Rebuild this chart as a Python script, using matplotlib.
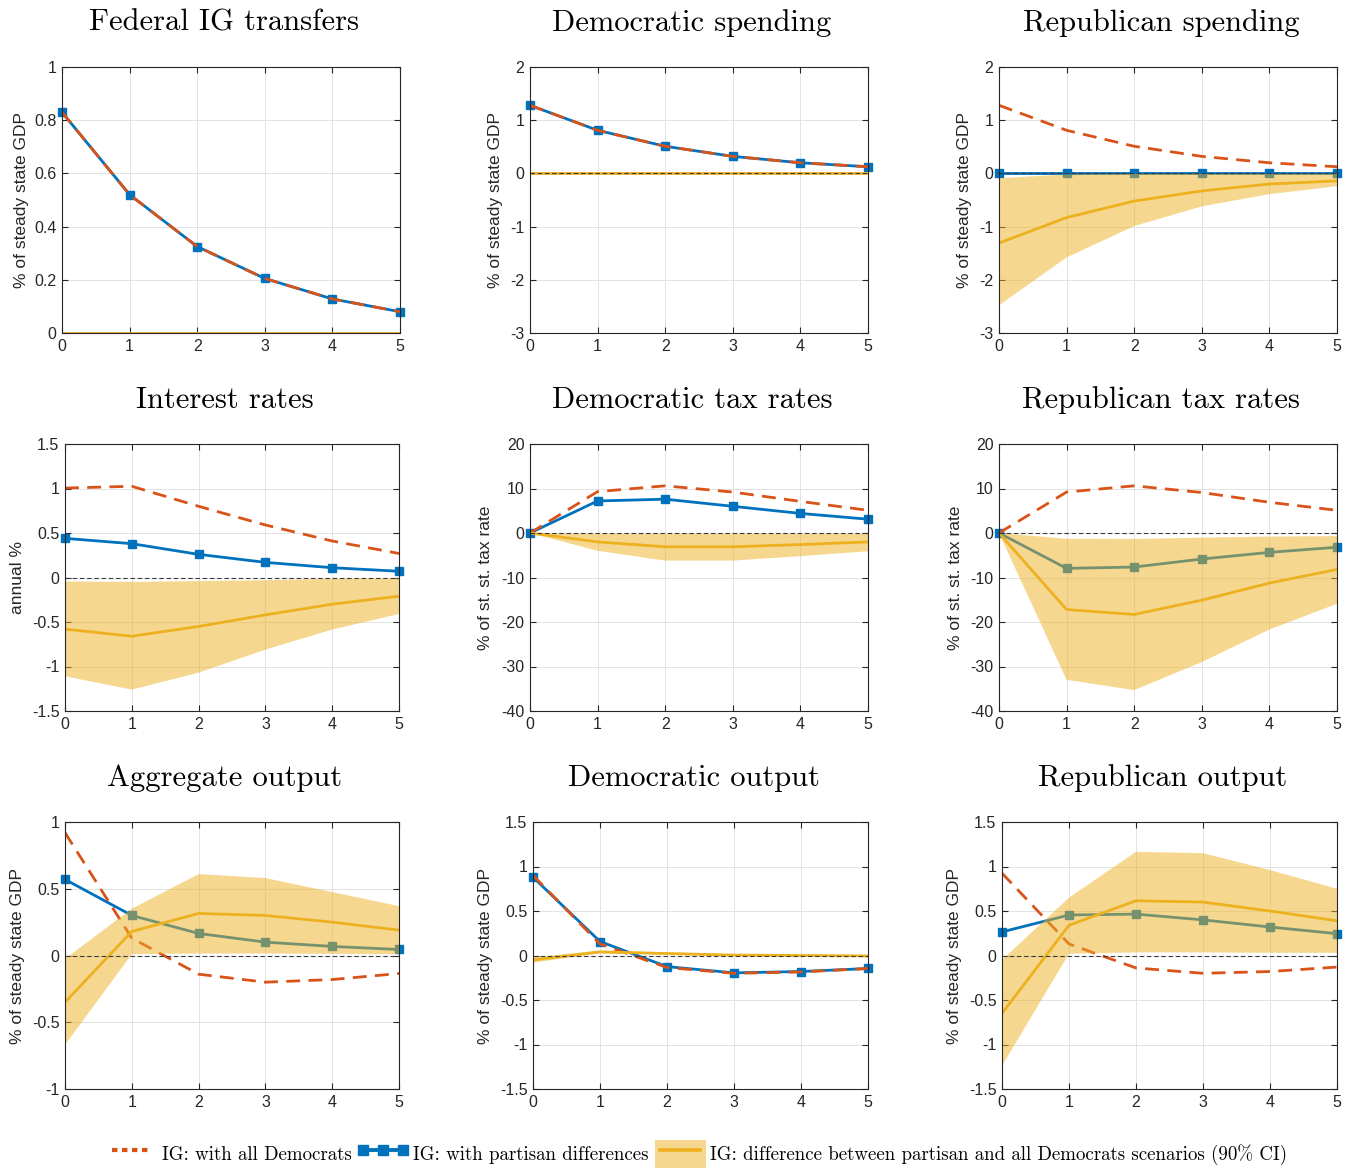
import matplotlib
matplotlib.use("Agg")
import matplotlib.pyplot as plt
from matplotlib.lines import Line2D
from matplotlib.patches import Patch
from matplotlib.ticker import FuncFormatter
import numpy as np

plt.rcParams["axes.unicode_minus"] = False

horizon = [0, 1, 2, 3, 4, 5]

titles = ["Federal IG transfers", "Democratic spending", "Republican spending",
          "Interest rates", "Democratic tax rates", "Republican tax rates",
          "Aggregate output", "Democratic output", "Republican output"]

ylabels = ["% of steady state GDP", "% of steady state GDP", "% of steady state GDP",
           "annual %", "% of st. st. tax rate", "% of st. st. tax rate",
           "% of steady state GDP", "% of steady state GDP", "% of steady state GDP"]

# IG with all Democrats
all_dem = [
    [0.83, 0.52, 0.325, 0.205, 0.128, 0.08],
    [1.28, 0.81, 0.51, 0.32, 0.20, 0.125],
    [1.28, 0.81, 0.51, 0.32, 0.20, 0.125],
    [1.005, 1.025, 0.80, 0.59, 0.41, 0.27],
    [0.0, 9.3, 10.6, 9.2, 7.1, 5.1],
    [0.0, 9.2, 10.6, 9.1, 6.9, 5.1],
    [0.92, 0.13, -0.14, -0.20, -0.18, -0.135],
    [0.90, 0.13, -0.135, -0.20, -0.185, -0.146],
    [0.925, 0.13, -0.14, -0.20, -0.18, -0.13],
]

# IG with partisan differences
partisan = [
    [0.83, 0.52, 0.325, 0.205, 0.128, 0.08],
    [1.28, 0.81, 0.51, 0.32, 0.20, 0.125],
    [0.0, 0.0, 0.0, 0.0, 0.0, 0.0],
    [0.44, 0.38, 0.26, 0.17, 0.11, 0.07],
    [0.0, 7.2, 7.6, 6.0, 4.4, 3.1],
    [0.0, -7.95, -7.65, -5.85, -4.35, -3.2],
    [0.57, 0.30, 0.165, 0.10, 0.068, 0.045],
    [0.88, 0.157, -0.125, -0.195, -0.18, -0.146],
    [0.265, 0.455, 0.465, 0.40, 0.32, 0.245],
]

# Difference between partisan and all-Democrats scenarios
difference = [
    [0.0, 0.0, 0.0, 0.0, 0.0, 0.0],
    [0.0, 0.0, 0.0, 0.0, 0.0, 0.0],
    [-1.31, -0.83, -0.52, -0.33, -0.20, -0.14],
    [-0.58, -0.66, -0.55, -0.42, -0.30, -0.21],
    [0.0, -2.0, -3.1, -3.1, -2.6, -2.0],
    [0.0, -17.2, -18.3, -15.1, -11.25, -8.2],
    [-0.35, 0.18, 0.315, 0.30, 0.25, 0.19],
    [-0.05, 0.04, 0.022, 0.005, 0.0, -0.005],
    [-0.65, 0.34, 0.615, 0.60, 0.50, 0.39],
]

# 90% confidence band of the difference
band_low = [
    [0.0, 0.0, 0.0, 0.0, 0.0, 0.0],
    [-0.01, -0.01, -0.01, -0.01, -0.01, -0.01],
    [-2.48, -1.58, -0.99, -0.62, -0.39, -0.24],
    [-1.11, -1.26, -1.07, -0.81, -0.585, -0.41],
    [0.0, -4.0, -6.2, -6.2, -5.2, -4.1],
    [0.0, -33.0, -35.3, -29.0, -21.7, -15.9],
    [-0.67, 0.01, 0.015, 0.015, 0.012, 0.01],
    [-0.08, 0.025, 0.01, -0.005, -0.01, -0.015],
    [-1.24, 0.02, 0.035, 0.035, 0.03, 0.03],
]
band_high = [
    [0.0, 0.0, 0.0, 0.0, 0.0, 0.0],
    [0.01, 0.01, 0.01, 0.01, 0.01, 0.01],
    [-0.09, -0.02, -0.01, -0.01, -0.01, -0.01],
    [-0.045, -0.05, -0.04, -0.03, -0.015, -0.01],
    [0.0, -0.2, -0.2, -0.2, -0.2, -0.2],
    [0.0, -1.3, -1.35, -1.05, -0.8, -0.7],
    [-0.025, 0.35, 0.61, 0.58, 0.475, 0.37],
    [-0.02, 0.055, 0.035, 0.015, 0.01, 0.005],
    [-0.05, 0.65, 1.165, 1.15, 0.96, 0.75],
]

ylims = [(0, 1), (-3, 2), (-3, 2), (-1.5, 1.5), (-40, 20), (-40, 20),
         (-1, 1), (-1.5, 1.5), (-1.5, 1.5)]
yticks = [
    [0, 0.2, 0.4, 0.6, 0.8, 1],
    [-3, -2, -1, 0, 1, 2],
    [-3, -2, -1, 0, 1, 2],
    [-1.5, -1, -0.5, 0, 0.5, 1, 1.5],
    [-40, -30, -20, -10, 0, 10, 20],
    [-40, -30, -20, -10, 0, 10, 20],
    [-1, -0.5, 0, 0.5, 1],
    [-1.5, -1, -0.5, 0, 0.5, 1, 1.5],
    [-1.5, -1, -0.5, 0, 0.5, 1, 1.5],
]

legend_labels = ["IG: with all Democrats",
                 "IG: with partisan differences",
                 "IG: difference between partisan and all Democrats scenarios (90% CI)"]

RED = "#D95319"
BLUE = "#0072BD"
YELLOW = "#EDB120"
AXC = "#262626"

W, H = 1355, 1170
fig = plt.figure(figsize=(W / 100, H / 100), dpi=100)

# axes boxes in pixels: left, top, right, bottom
boxes = [
    (62, 67, 400, 333), (530, 67, 868, 333), (999, 67, 1337, 333),
    (65, 444, 399, 711), (530, 444, 868, 711), (999, 444, 1337, 711),
    (65, 822, 399, 1089), (533, 822, 868, 1089), (1002, 822, 1337, 1089),
]
# right edge of each y-label, in pixels
label_right = [29, 503, 972, 25, 493, 963, 25, 493, 962]

tick_family = ["Liberation Sans", "DejaVu Sans"]
title_font = ["cmr10", "DejaVu Serif"]

fmt = FuncFormatter(lambda v, p: ("%g" % v))

for i in range(9):
    l, t, r, b = boxes[i]
    ax = fig.add_axes([l / W, 1 - b / H, (r - l) / W, (b - t) / H])
    x = np.array(horizon)

    ax.plot(x, partisan[i], color=BLUE, lw=2.0, marker="s", ms=6,
            mfc=BLUE, mec=BLUE, clip_on=False, zorder=1.5)
    ax.plot(x, all_dem[i], color=RED, lw=2.0, dashes=(5, 3), zorder=1.6)
    ax.fill_between(x, band_low[i], band_high[i], facecolor=YELLOW, alpha=0.5,
                    lw=0, zorder=2.2)
    ax.plot(x, difference[i], color=YELLOW, lw=2.0, zorder=2.3)
    ax.plot([x[0], x[-1]], [0, 0], color="#3a3a3a", lw=0.8, dashes=(4, 2.5),
            zorder=2.4)

    ax.set_xlim(0, 5)
    ax.set_ylim(*ylims[i])
    ax.set_xticks(horizon)
    ax.set_yticks(yticks[i])
    ax.yaxis.set_major_formatter(fmt)
    ax.grid(True, color="#e3e3e3", lw=0.7)
    ax.set_axisbelow(True)
    for s in ax.spines.values():
        s.set_color(AXC)
        s.set_linewidth(0.8)
        s.set_zorder(2.5)
    ax.tick_params(direction="in", top=True, right=True, length=4, width=0.8,
                   color=AXC, labelcolor=AXC, pad=4)
    for lab in ax.get_xticklabels() + ax.get_yticklabels():
        lab.set_fontfamily(tick_family)
        lab.set_fontsize(11.5)

    ax.set_title(titles[i], fontfamily=title_font, fontsize=22, pad=26,
                 color="black", x=0.5 - 7 / (r - l))
    ax.set_ylabel(ylabels[i], fontfamily=tick_family, fontsize=12.5, color=AXC)
    ax.yaxis.set_label_coords((label_right[i] - l) / (r - l), 0.5)

h_red = Line2D([], [], color=RED, lw=3.0, dashes=(1.3, 1.1))
h_blue = Line2D([], [], color=BLUE, lw=2.8, marker="s", ms=7)
h_band = (Patch(facecolor=YELLOW, alpha=0.5, lw=0),
          Line2D([], [], color=YELLOW, lw=2.6))
fig.legend([h_red, h_blue, h_band], legend_labels,
           loc="center", bbox_to_anchor=(697 / W, 1 - 1154 / H),
           ncol=3, frameon=False, numpoints=3,
           prop={"family": title_font, "size": 13.6},
           handlelength=2.7, handleheight=1.9, handletextpad=0.25,
           columnspacing=0.3, borderpad=0.1)

fig.savefig("out.png", dpi=100)
